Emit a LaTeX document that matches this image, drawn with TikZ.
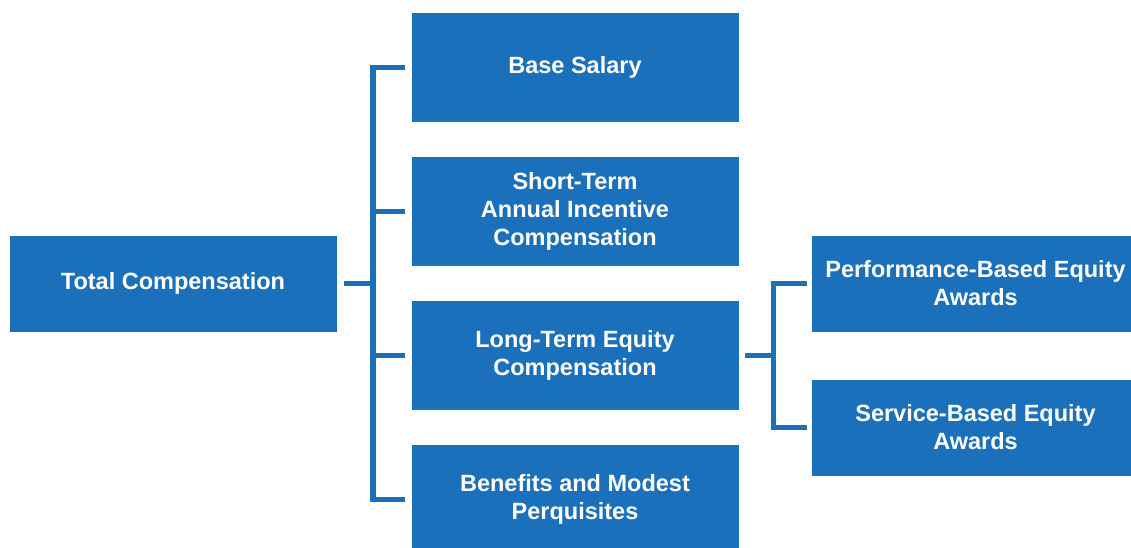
\documentclass[tikz,border=0pt]{standalone}
\usepackage{fontspec}
\setmainfont{Liberation Sans}
\definecolor{boxblue}{RGB}{26,112,187}
\begin{document}
\begin{tikzpicture}[x=1pt,y=-1pt,
  box/.style={fill=boxblue, draw=none, inner sep=0pt, minimum width=327pt,
    text=white, font=\fontsize{23.5}{28}\selectfont\bfseries, align=center},
  tall/.style={box, minimum height=109pt},
  short/.style={box, minimum height=96pt},
  conn/.style={draw=boxblue, line width=5.5pt, line join=miter, line cap=butt}]
\clip (0,0) rectangle (1131,547);
\fill[white] (0,0) rectangle (1131,547);
\node[short] (tot) at (173,283.5) {Total Compensation};
\node[tall] (base) at (575,67.5) {Base Salary};
\node[tall] (sti) at (575,211.5) {Short-Term\\Annual Incentive\\Compensation};
\node[tall] (lti) at (575,355.5) {Long-Term Equity\\Compensation};
\node[tall] (ben) at (575,499.5) {Benefits and Modest\\Perquisites};
\node[short] (perf) at (975.5,283.5) {Performance-Based Equity\\Awards};
\node[short] (serv) at (975.5,427.5) {Service-Based Equity\\Awards};
% main tree
\coordinate (trunk) at (375.5,283.5);
\draw[conn] ([xshift=7pt]tot.east) -- (trunk);
\draw[conn] ([xshift=-6pt]base.west) -- ([xshift=-2.75pt]base.west -| trunk) |- ([xshift=-6pt]ben.west);
\draw[conn] ([xshift=-6pt]sti.west) -- (sti.west -| trunk);
\draw[conn] ([xshift=-6pt]lti.west) -- (lti.west -| trunk);
% equity subtree
\coordinate (trunk2) at (776,355.5);
\draw[conn] ([xshift=6pt]lti.east) -- (trunk2);
\draw[conn] ([xshift=-5pt]perf.west) -- ([xshift=-2.75pt]perf.west -| trunk2) |- ([xshift=-5pt]serv.west);
\end{tikzpicture}
\end{document}
